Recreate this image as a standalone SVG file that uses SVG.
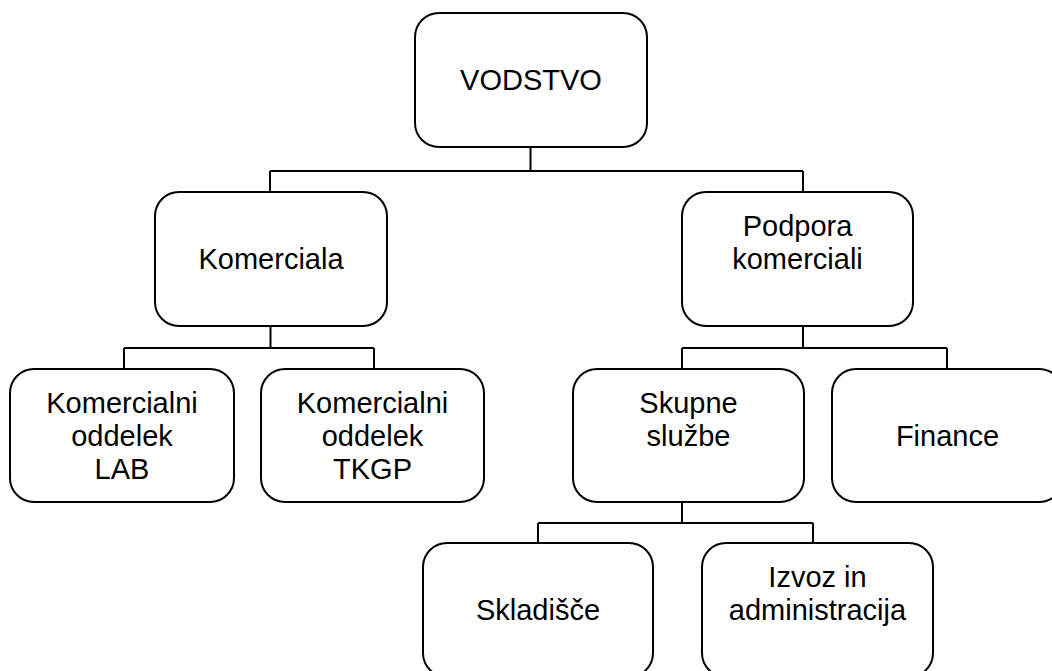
<svg xmlns="http://www.w3.org/2000/svg" width="1052" height="671" viewBox="0 0 1052 671">
<style>
.box{fill:#fff;stroke:#000;stroke-width:2}
.t{font-family:"Liberation Sans",Arial,sans-serif;font-size:29px;fill:#000;text-anchor:middle}
.c{fill:none;stroke:#000;stroke-width:2}
</style>
<rect width="1052" height="671" fill="#fff"/>
<g id="connectors">
<path class="c" d="M530.5 147V171M270 171H803M270 171V192M803 171V192"/>
<path class="c" d="M270.5 326V348M124 348H374M124 348V369M374 348V369"/>
<path class="c" d="M803 326V348M682 348H947M682 348V369M947 348V369"/>
<path class="c" d="M682 502V523M538 523H813M538 523V543M813 523V543"/>
</g>
<g id="vodstvo"><rect class="box" x="415" y="13" width="232" height="134" rx="24"/><text class="t" x="531" y="90">VODSTVO</text></g>
<g id="komerciala"><rect class="box" x="155" y="192" width="232" height="134" rx="24"/><text class="t" x="271" y="269">Komerciala</text></g>
<g id="podpora"><rect class="box" x="682" y="192" width="231" height="134" rx="24"/><text class="t" x="797.5" y="236">Podpora</text><text class="t" x="797.5" y="269">komerciali</text></g>
<g id="lab"><rect class="box" x="10" y="369" width="224" height="133" rx="24"/><text class="t" x="122" y="413">Komercialni</text><text class="t" x="122" y="446">oddelek</text><text class="t" x="122" y="479">LAB</text></g>
<g id="tkgp"><rect class="box" x="261" y="369" width="223" height="133" rx="24"/><text class="t" x="372.5" y="413">Komercialni</text><text class="t" x="372.5" y="446">oddelek</text><text class="t" x="372.5" y="479">TKGP</text></g>
<g id="skupne"><rect class="box" x="573" y="369" width="231" height="133" rx="24"/><text class="t" x="688.5" y="413">Skupne</text><text class="t" x="688.5" y="446">službe</text></g>
<g id="finance"><rect class="box" x="832" y="369" width="231" height="133" rx="24"/><text class="t" x="947.5" y="446">Finance</text></g>
<g id="skladisce"><rect class="box" x="423" y="543" width="230" height="134" rx="24"/><text class="t" x="538" y="620">Skladišče</text></g>
<g id="izvoz"><rect class="box" x="702" y="543" width="231" height="134" rx="24"/><text class="t" x="817.5" y="587">Izvoz in</text><text class="t" x="817.5" y="620">administracija</text></g>
</svg>
